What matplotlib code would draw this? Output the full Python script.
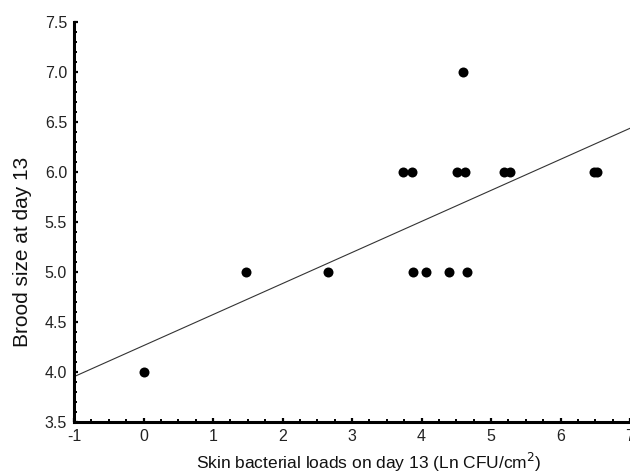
import numpy as np
import matplotlib
matplotlib.use('Agg')
from matplotlib import pyplot as plt
from matplotlib.ticker import MultipleLocator

# skin bacterial load (Ln CFU/cm2) vs brood size on day 13
bacterial_load = [0.0, 1.48, 2.66, 3.88, 4.07, 4.40, 4.65,
                  3.73, 3.87, 4.51, 4.63, 5.18, 5.27, 6.48, 6.53, 4.60]
brood_size = [4, 5, 5, 5, 5, 5, 5,
              6, 6, 6, 6, 6, 6, 6, 6, 7]

# regression line
fit_intercept = 4.264
fit_slope = 0.3105

x_ticks = [-1, 0, 1, 2, 3, 4, 5, 6, 7]
y_ticks = [3.5, 4.0, 4.5, 5.0, 5.5, 6.0, 6.5, 7.0, 7.5]

plt.rcParams['font.family'] = ['Liberation Sans', 'DejaVu Sans']

fig = plt.figure(figsize=(6.3, 4.76), dpi=100)
ax = fig.add_axes([0.1175, 0.1134, 0.8825, 0.8403])

xs = np.array([-1, 7])
ax.plot(xs, fit_intercept + fit_slope * xs, color='#333333', lw=0.8)
ax.plot(bacterial_load, brood_size, 'o', color='black', ms=7.2, mew=0)

ax.set_xlim(-1, 7)
ax.set_ylim(3.5, 7.5)
ax.set_xticks(x_ticks)
ax.set_yticks(y_ticks)
ax.set_xticklabels([str(t) for t in x_ticks])
ax.set_yticklabels(['%.1f' % t for t in y_ticks])
ax.xaxis.set_minor_locator(MultipleLocator(0.25))
ax.yaxis.set_minor_locator(MultipleLocator(0.1))

for side in ['top', 'right']:
    ax.spines[side].set_visible(False)
for side in ['left', 'bottom']:
    ax.spines[side].set_linewidth(2.2)

ax.tick_params(which='major', direction='in', length=3, width=1.6,
               labelsize=11.5, pad=5, labelcolor='#222222')
ax.tick_params(which='minor', direction='in', length=2, width=1.4)

ax.set_xlabel('Skin bacterial loads on day 13 (Ln CFU/cm$^2$)', fontsize=12.5, color='#111111')
ax.set_ylabel('Brood size at day 13', fontsize=15, color='#111111')
ax.xaxis.set_label_coords(0.53, -0.072)
ax.yaxis.set_label_coords(-0.076, 0.425)

for lab in ax.get_xticklabels() + ax.get_yticklabels():
    lab.set_clip_on(False)

fig.savefig('out.png', dpi=100)
